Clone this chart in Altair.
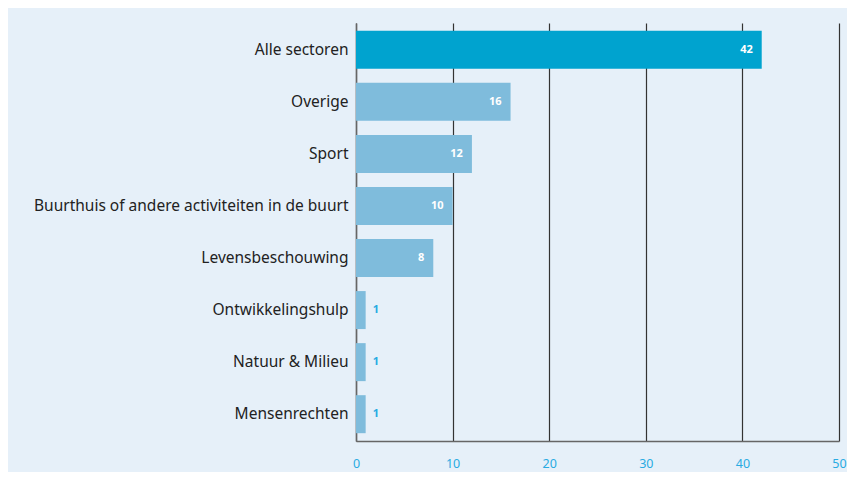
import altair as alt
import pandas as pd

categories = ["Alle sectoren", "Overige", "Sport",
              "Buurthuis of andere activiteiten in de buurt",
              "Levensbeschouwing", "Ontwikkelingshulp",
              "Natuur & Milieu", "Mensenrechten"]
values = [42, 16, 12, 10, 8, 1, 1, 1]
highlight = [True, False, False, False, False, False, False, False]

df = pd.DataFrame({"cat": categories, "val": values, "hl": highlight})

y_enc = alt.Y("cat:N", sort=categories, title=None,
              scale=alt.Scale(paddingInner=0.27, paddingOuter=0.15),
              axis=alt.Axis(labelFont="Noto Sans", labelFontSize=15.5, labelColor="#222",
                            labelPadding=8, ticks=False, domainColor="#666",
                            domainWidth=1.5, labelLimit=400))
x_enc = alt.X("val:Q", title=None, scale=alt.Scale(domain=[0, 50]),
              axis=alt.Axis(values=[0, 10, 20, 30, 40, 50], ticks=False,
                            labelFont="Noto Sans", labelFontSize=12.5, labelColor="#29abe2",
                            labelPadding=16, labelFlush=False, grid=True, gridColor="#333",
                            gridWidth=1.2, domainColor="#666", domainWidth=1.5))

bars = alt.Chart(df).mark_bar().encode(
    y=y_enc, x=x_enc,
    color=alt.Color("hl:N", scale=alt.Scale(domain=[True, False],
                                            range=["#00a3cf", "#7fbcdc"]), legend=None),
)

inside = alt.Chart(df).transform_filter("datum.val >= 5").mark_text(
    align="right", dx=-9, font="Noto Sans", fontSize=11, fontWeight="bold", color="white"
).encode(y=alt.Y("cat:N", sort=categories), x="val:Q", text="val:Q")

outside = alt.Chart(df).transform_filter("datum.val < 5").mark_text(
    align="left", dx=7, font="Noto Sans", fontSize=11, fontWeight="bold", color="#29abe2"
).encode(y=alt.Y("cat:N", sort=categories), x="val:Q", text="val:Q")

chart = (bars + inside + outside).properties(
    width=483, height=418,
    background="#e6f0f9",
    autosize=alt.AutoSizeParams(type="none"),
    padding={"left": 348, "top": 15, "right": 8, "bottom": 31},
).configure_view(stroke=None)

chart.save("out.html", embed_options={"renderer": "svg", "actions": False})
